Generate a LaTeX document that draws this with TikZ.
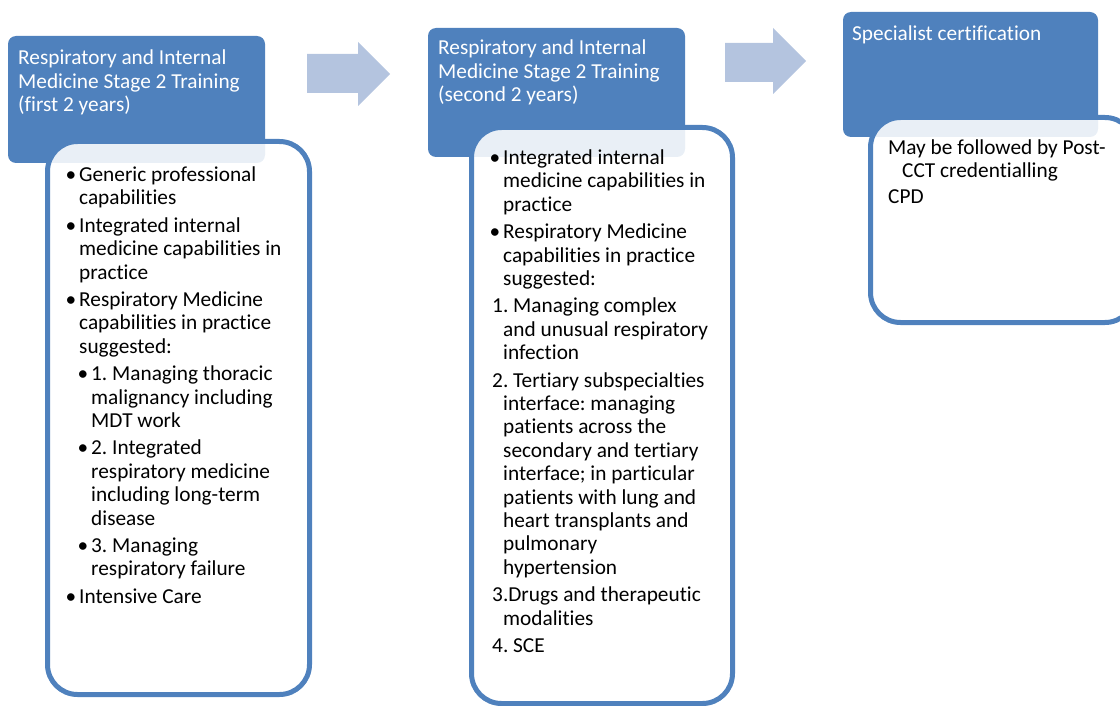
\documentclass[tikz,border=0pt]{standalone}
\usepackage{fontspec}
\setmainfont{Carlito}[Ligatures={NoCommon}]
\usetikzlibrary{positioning}
\definecolor{stageblue}{HTML}{4F81BD}
\definecolor{arrowblue}{HTML}{B4C4DF}
\newcommand{\stagefont}{\fontsize{21.3}{23.4}\selectfont}
\newcommand{\bul}{\llap{•\hspace{3pt}}}
\frenchspacing
\begin{document}
\begin{tikzpicture}[x=1pt, y=-1pt,
  header/.style={fill=stageblue, rounded corners=8pt},
  panel/.style={draw=stageblue, line width=5pt, fill=white, fill opacity=0.88, rounded corners=30pt},
  headtext/.style={anchor=north west, inner sep=0pt, align=left, text=white, font=\stagefont, execute at begin node=\strut},
  bodytext/.style={anchor=north west, inner sep=0pt, align=left, font=\stagefont, execute at begin node=\strut},
  stagearrow/.style={fill=arrowblue}]
\useasboundingbox (0,0) rectangle (1120,706);

% stage headers
\fill[header] (8,36) rectangle (265,163);
\fill[header] (428,28) rectangle (685,157);
\fill[header] (843,12) rectangle (1098,137);

% block arrows
\fill[stagearrow] (307,54) -- (358,54) -- (358,42) -- (390,74) -- (358,106) -- (358,93) -- (307,93) -- cycle;
\fill[stagearrow] (725,43) -- (773,43) -- (773,28) -- (806,61) -- (773,94) -- (773,82) -- (725,82) -- cycle;

% content panels
\draw[panel] (47.5,141.5) rectangle (309.5,694.5);
\draw[panel] (471.5,127.5) rectangle (732.5,703.5);
\draw[panel] (870.5,117.5) rectangle (1135,322.5);

% texts: first baseline is 16.4 below the anchor
\node[headtext] (head1) at (18,50) {Respiratory and Internal\\Medicine Stage 2 Training\\(first 2 years)};
\node[headtext] (head2) at (438,40) {Respiratory and Internal\\Medicine Stage 2 Training\\(second 2 years)};
\node[headtext] (head3) at (852,24) {Specialist certification};

\node[bodytext] (list1) at (79,166.5) {\bul Generic professional\\
capabilities\\[4pt]
\bul Integrated internal\\
medicine capabilities in\\
practice\\[4pt]
\bul Respiratory Medicine\\
capabilities in practice\\
suggested:\\[4pt]
\hspace*{12pt}\bul 1. Managing thoracic\\
\hspace*{12pt}malignancy including\\
\hspace*{12pt}MDT work\\[4pt]
\hspace*{12pt}\bul 2. Integrated\\
\hspace*{12pt}respiratory medicine\\
\hspace*{12pt}including long-term\\
\hspace*{12pt}disease\\[4pt]
\hspace*{12pt}\bul 3. Managing\\
\hspace*{12pt}respiratory failure\\[4pt]
\bul Intensive Care};

\node[bodytext] (list2) at (503,149.5) {\bul Integrated internal\\
medicine capabilities in\\
practice\\[4pt]
\bul Respiratory Medicine\\
capabilities in practice\\
suggested:\\[4pt]
\hspace*{-11pt}1. Managing complex\\
and unusual respiratory\\
infection\\[4pt]
\hspace*{-11pt}2. Tertiary subspecialties\\
interface: managing\\
patients across the\\
secondary and tertiary\\
interface; in particular\\
patients with lung and\\
heart transplants and\\
pulmonary\\
hypertension\\[4pt]
\hspace*{-11pt}3.Drugs and therapeutic\\
modalities\\[4pt]
\hspace*{-11pt}4. SCE};

\node[bodytext] (list3) at (888,139.5) {May be followed by Post-\\
\hspace*{14pt}CCT credentialling\\[2pt]
CPD};
\end{tikzpicture}
\end{document}
